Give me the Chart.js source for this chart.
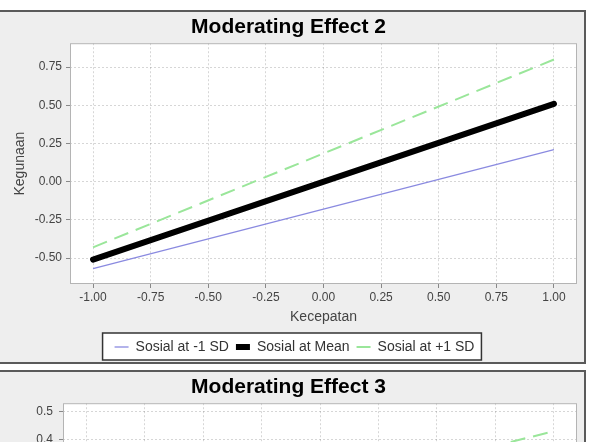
<!DOCTYPE html>
<html lang="en">
<head>
<meta charset="UTF-8">
<title>Moderating Effect</title>
<script src="https://cdn.jsdelivr.net/npm/chart.js"></script>
<style>
  html, body { margin: 0; padding: 0; background: #fff; overflow: hidden; }
  body { width: 590px; height: 442px; position: relative; }
  .panel { position: absolute; left: 0; width: 584px; height: 352px; background: #eeeeee; }
  .frame { position: absolute; left: -2px; width: 588px; height: 354px; box-sizing: border-box; border: 2px solid #5a5a5a; pointer-events: none; }
  canvas { display: block; }
</style>
</head>
<body>
<div class="panel" style="top:12px"><canvas id="effect2"></canvas></div>
<div class="frame" style="top:10px"></div>
<div class="panel" style="top:372px"><canvas id="effect3"></canvas></div>
<div class="frame" style="top:370px"></div>

<script>
// --- data ---
const xValues = [-1, 1];
const xTicks = [-1, -0.75, -0.5, -0.25, 0, 0.25, 0.5, 0.75, 1];
const seriesLabels = ['Sosial at -1 SD', 'Sosial at Mean', 'Sosial at +1 SD'];

// Moderating Effect 2
const effect2Low = [-0.57, 0.21];
const effect2Mean = [-0.51, 0.51];
const effect2High = [-0.43, 0.80];
const effect2YTicks = [-0.5, -0.25, 0, 0.25, 0.5, 0.75];

// Moderating Effect 3 (only the top strip shows)
const effect3Low = [-0.22, 0.02];
const effect3Mean = [-0.10, 0.22];
const effect3High = [0.03, 0.43];
const effect3YTicks = [-0.3, -0.2, -0.1, 0.0, 0.1, 0.2, 0.3, 0.4, 0.5];

const FONT = "'Liberation Sans', Arial, sans-serif";
const GRID = 'rgba(0, 0, 0, 0.16)';

function toPoints(values) {
    return xValues.map((x, i) => ({ x: x, y: values[i] }));
}

// white plot area + boxed legend, like the original
function legendBox(chart) {
    const l = chart.legend;
    if (!l || !l.legendHitBoxes || !l.legendHitBoxes.length) return null;
    const hb = l.legendHitBoxes;
    const left = Math.min(...hb.map(h => h.left)) - 12;
    const right = Math.max(...hb.map(h => h.left + h.width)) + 7;
    return { left: left, top: l.top, width: right - left, height: 27 };
}

const framePlugin = {
    id: 'frames',
    afterLayout(chart) {
        // legend sits a little right of the plot centre in the original
        const l = chart.legend;
        if (l) { l.left += 6; l.right += 6; }
    },
    beforeDraw(chart) {
        const { ctx, chartArea: a } = chart;
        ctx.save();
        ctx.fillStyle = '#fff';
        ctx.fillRect(a.left, a.top, a.right - a.left, a.bottom - a.top);
        const box = legendBox(chart);
        if (box) ctx.fillRect(box.left, box.top, box.width, box.height);
        ctx.restore();
    },
    afterDraw(chart) {
        const { ctx, chartArea: a } = chart;
        ctx.save();
        ctx.strokeStyle = '#b4b4b4';
        ctx.lineWidth = 1;
        ctx.strokeRect(a.left + 0.5, a.top + 0.5, a.right - a.left - 1, a.bottom - a.top - 1);
        const box = legendBox(chart);
        if (box) {
            ctx.strokeStyle = '#333';
            ctx.lineWidth = 1.5;
            ctx.strokeRect(box.left, box.top, box.width, box.height);
        }
        ctx.restore();
    }
};

function legendLabels(chart) {
    const items = Chart.defaults.plugins.legend.labels.generateLabels(chart);
    items.forEach(item => {
        if (item.lineDash && item.lineDash.length) item.lineDash = [7, 4];
    });
    return items;
}

function makeChart(id, title, low, mean, high, yTicks, yMin, yMax, digits, yWidth, yPad) {
    return new Chart(document.getElementById(id), {
        type: 'line',
        data: {
            datasets: [
                {
                    label: seriesLabels[0],
                    data: toPoints(low),
                    borderColor: '#8a8ae0',
                    borderWidth: 1.3
                },
                {
                    label: seriesLabels[1],
                    data: toPoints(mean),
                    borderColor: '#000',
                    borderWidth: 6,
                    borderCapStyle: 'round'
                },
                {
                    label: seriesLabels[2],
                    data: toPoints(high),
                    borderColor: '#9ae69a',
                    borderWidth: 2,
                    borderDash: [15, 8]
                }
            ]
        },
        options: {
            responsive: true,
            maintainAspectRatio: false,
            animation: false,
            layout: { padding: { left: 0, right: 7, top: 0, bottom: 0 } },
            elements: {
                point: { radius: 0, hoverRadius: 0, pointStyle: 'line' },
                line: { tension: 0 }
            },
            plugins: {
                title: {
                    display: true,
                    text: title,
                    color: '#000',
                    font: { family: FONT, size: 21, weight: 'bold' },
                    padding: { top: 3, bottom: 3 }
                },
                legend: {
                    position: 'bottom',
                    labels: {
                        usePointStyle: true,
                        pointStyleWidth: 14,
                        padding: 7,
                        color: '#333',
                        font: { family: FONT, size: 14 },
                        generateLabels: legendLabels
                    }
                },
                tooltip: { enabled: false }
            },
            scales: {
                x: {
                    type: 'linear',
                    min: -1.1,
                    max: 1.1,
                    afterBuildTicks: s => { s.ticks = xTicks.map(v => ({ value: v })); },
                    afterFit: s => { s.height = 49; },
                    ticks: {
                        padding: 2,
                        color: '#444',
                        font: { family: FONT, size: 12 },
                        callback: v => v.toFixed(2)
                    },
                    grid: { color: GRID, tickColor: '#888', tickLength: 4 },
                    border: { display: false, dash: [2, 2] },
                    title: {
                        display: true,
                        text: 'Kecepatan',
                        color: '#444',
                        font: { family: FONT, size: 14 },
                        padding: { top: 0, bottom: 7.6 }
                    }
                },
                y: {
                    type: 'linear',
                    min: yMin,
                    max: yMax,
                    afterBuildTicks: s => { s.ticks = yTicks.map(v => ({ value: v })); },
                    afterFit: s => { s.width = yWidth; },
                    ticks: {
                        padding: yPad,
                        color: '#444',
                        font: { family: FONT, size: 12 },
                        callback: v => v.toFixed(digits)
                    },
                    grid: { color: GRID, tickColor: '#888', tickLength: 4 },
                    border: { display: false, dash: [2, 2] },
                    title: {
                        display: true,
                        text: 'Kegunaan',
                        color: '#444',
                        font: { family: FONT, size: 14 },
                        padding: { top: 11.6, bottom: 0 }
                    }
                }
            }
        },
        plugins: [framePlugin]
    });
}

makeChart('effect2', 'Moderating Effect 2', effect2Low, effect2Mean, effect2High,
    effect2YTicks, -0.67, 0.907, 2, 70, 4);
makeChart('effect3', 'Moderating Effect 3', effect3Low, effect3Mean, effect3High,
    effect3YTicks, -0.31, 0.528, 1, 63, 6);
</script>
</body>
</html>
